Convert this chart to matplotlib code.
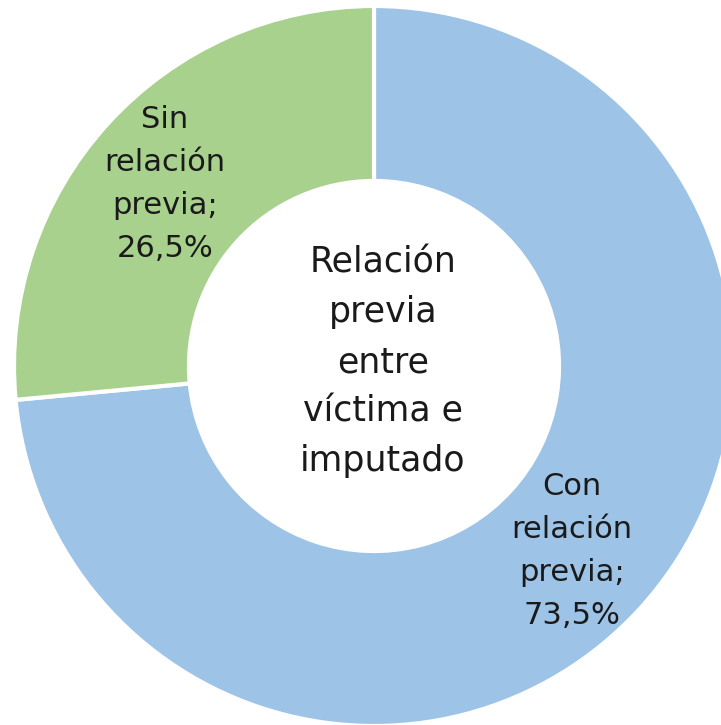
import matplotlib.pyplot as plt

labels = ["Con\nrelación\nprevia;\n73,5%", "Sin\nrelación\nprevia;\n26,5%"]
values = [73.5, 26.5]
colors = ["#9DC3E6", "#A9D18E"]
center_title = "Relación\nprevia\nentre\nvíctima e\nimputado"

W, H = 721, 725
fig = plt.figure(figsize=(W / 100, H / 100), dpi=100)
ax = fig.add_axes([0, 0, 1, 1])

cx, cy, r = 374, H - 366, 360
ax.pie(values, colors=colors, startangle=90, counterclock=False,
       center=(cx, cy), radius=r, frame=True,
       wedgeprops=dict(width=r * 0.486, edgecolor="white", linewidth=3))
ax.set_xlim(0, W)
ax.set_ylim(0, H)
ax.axis("off")

font = "DejaVu Sans"
ax.text(383, H - 362, center_title, ha="center", va="center",
        fontsize=25, family=font, color="#1a1a1a", linespacing=1.58)
ax.text(572, H - 551, labels[0], ha="center", va="center",
        fontsize=22, family=font, color="#1a1a1a", linespacing=1.62)
ax.text(165, H - 184, labels[1], ha="center", va="center",
        fontsize=22, family=font, color="#1a1a1a", linespacing=1.62)

fig.savefig("out.png", dpi=100)
